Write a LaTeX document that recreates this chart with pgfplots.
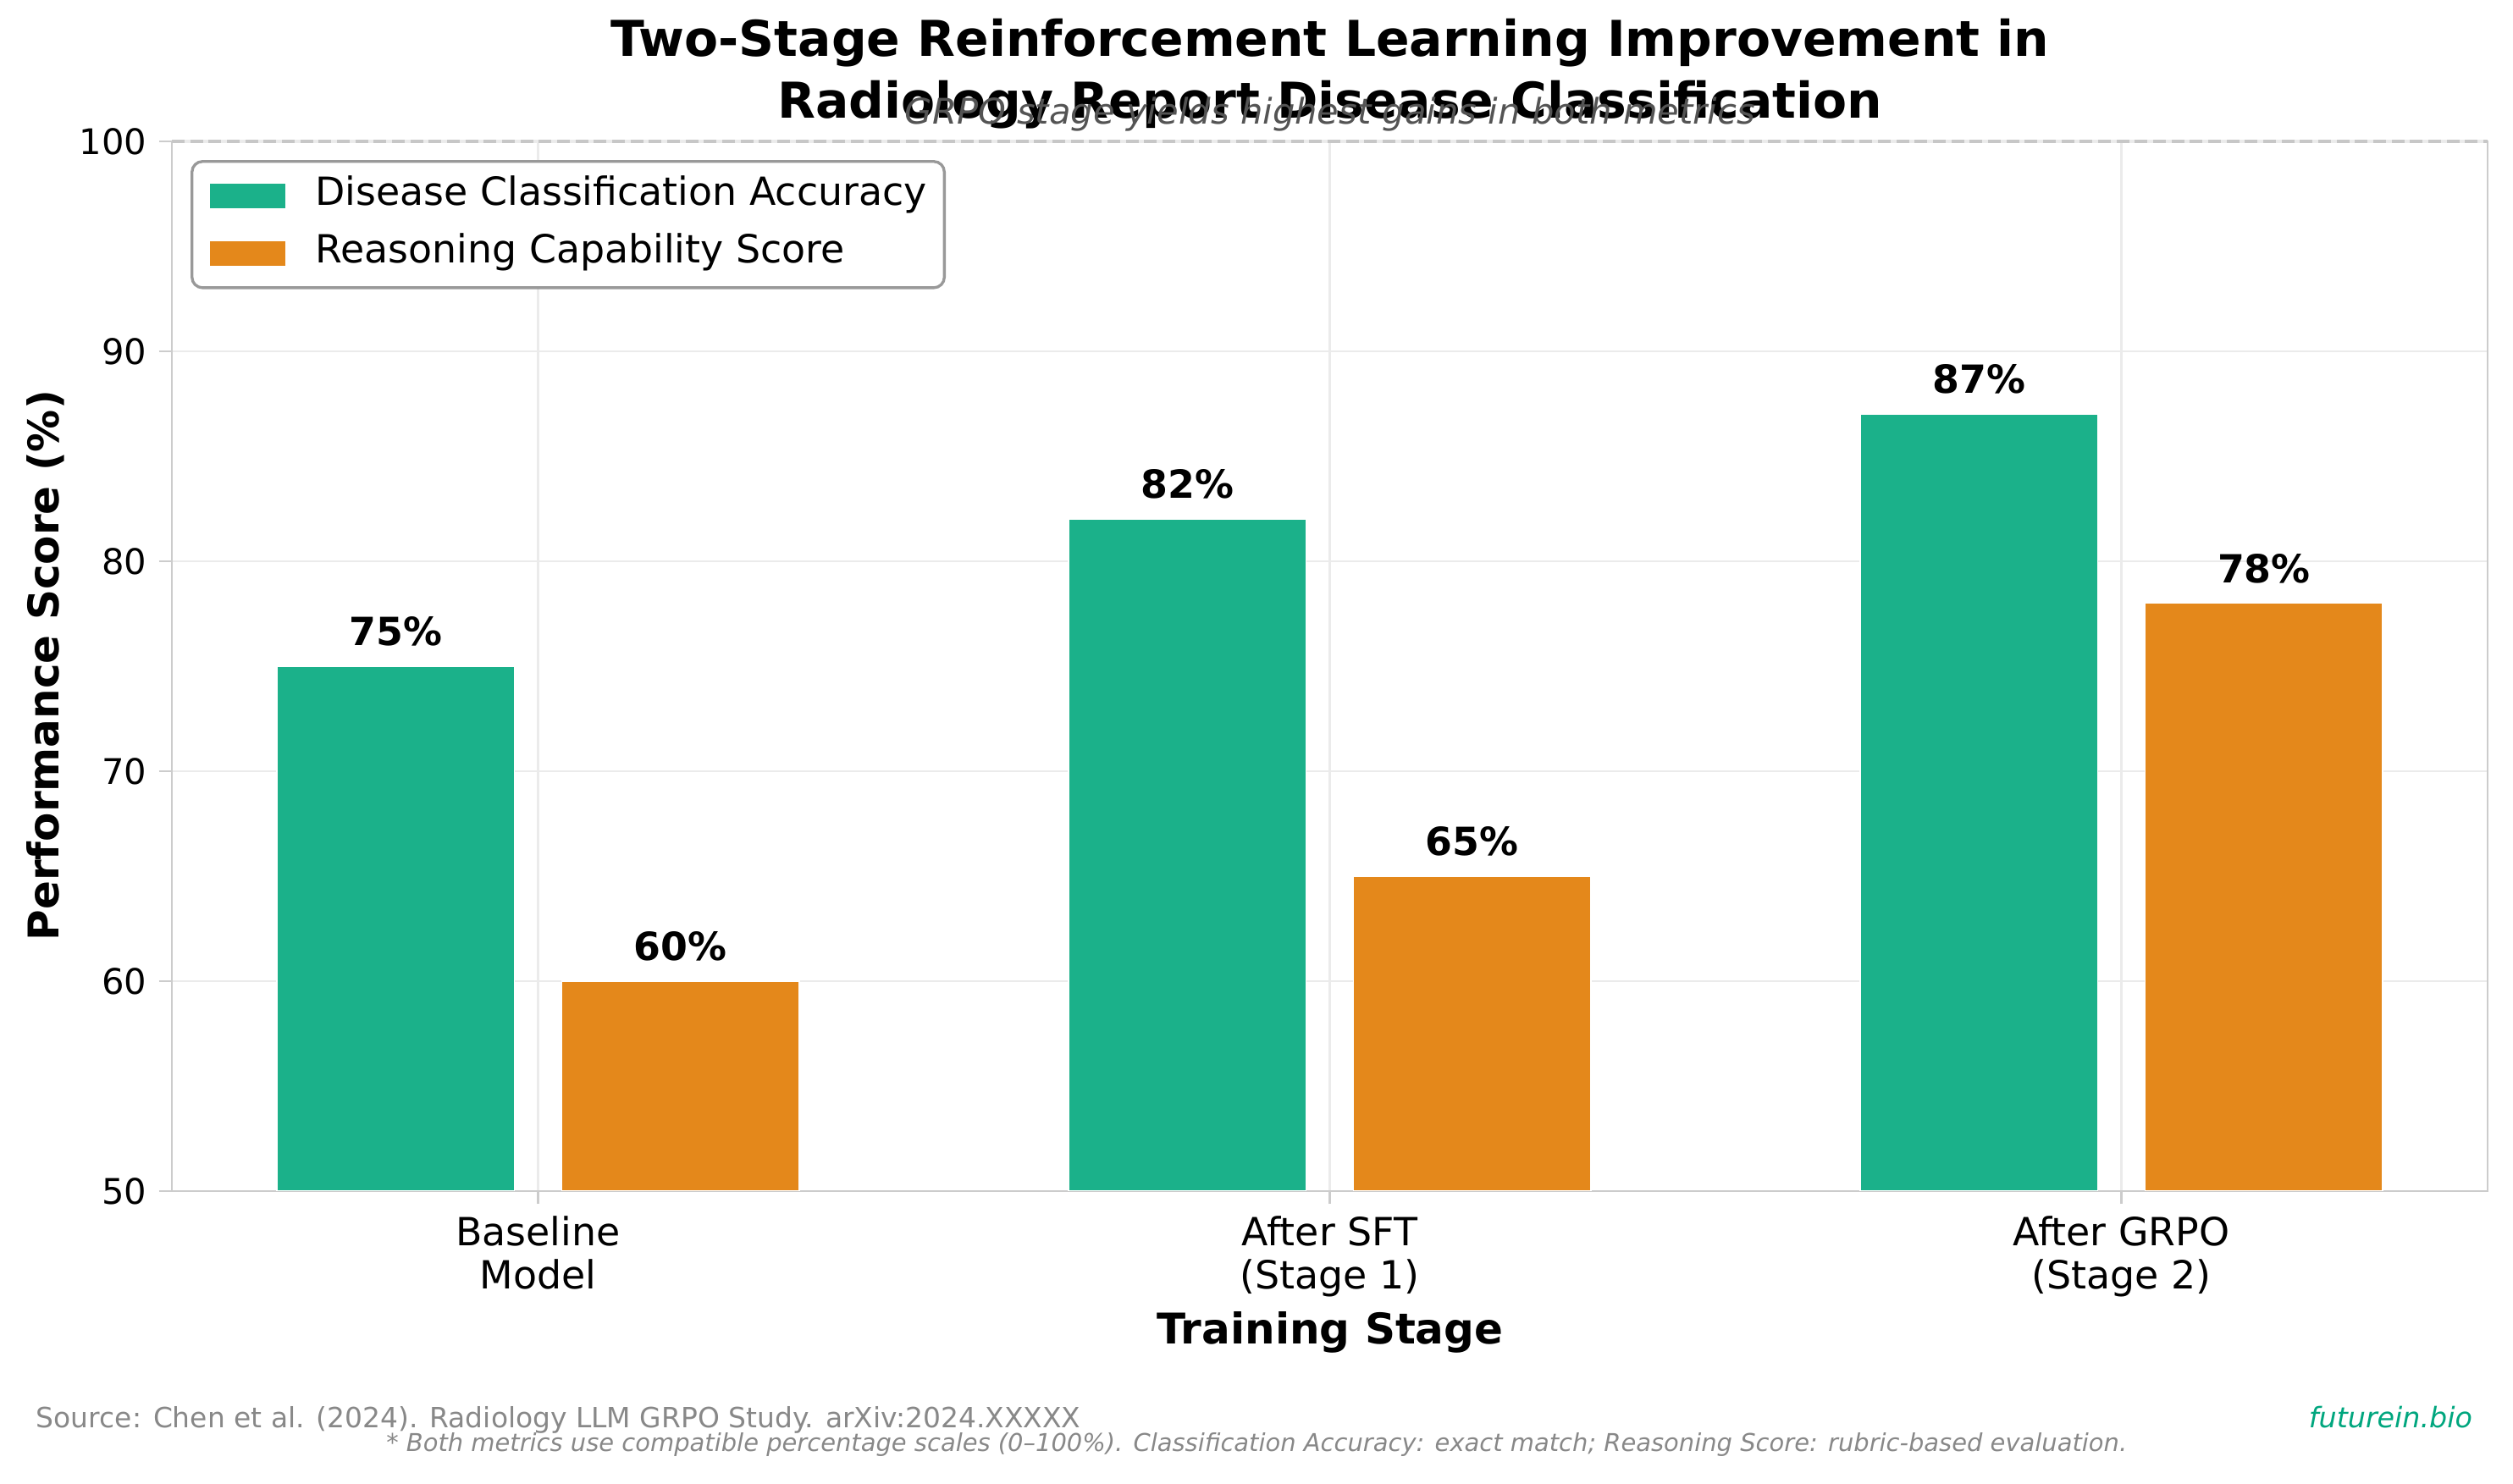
\documentclass[border=0pt]{standalone}
\usepackage{fontspec}
\setmainfont{DejaVu Sans}
\usepackage{pgfplots}
\pgfplotsset{compat=1.18}
\definecolor{cA}{HTML}{1BB18A}
\definecolor{cB}{HTML}{E4881B}
\definecolor{spine}{HTML}{CCCCCC}
\definecolor{gridc}{HTML}{EBEBEB}
\definecolor{foot}{HTML}{888888}
\definecolor{brand}{HTML}{00A67E}
\pgfplotsset{
  barlegend/.style={legend image code/.code={\path[##1,draw=none,sharp corners] (0pt,-3.5pt) rectangle (21.4pt,3.5pt); \path[draw=none,fill=none] (0pt,0pt) -- (30pt,0pt);}},
}
\begin{document}
\begin{tikzpicture}[x=1pt,y=1pt]
\path[use as bounding box] (0,0) rectangle (712.32,420.48);
\begin{axis}[
  name=ax,
  at={(48.72pt,82.8pt)}, anchor=south west,
  width=656.4pt, height=297.6pt, scale only axis,
  xmin=-0.4625, xmax=2.4625, ymin=50, ymax=100,
  xtick={0,1,2},
  xticklabels={{Baseline\\Model},{After SFT\\(Stage 1)},{After GRPO\\(Stage 2)}},
  ytick={50,60,70,80,90,100},
  xmajorgrids, ymajorgrids,
  major grid style={draw=gridc, line width=0.6pt},
  axis line style={draw=spine, line width=0.6pt},
  tick style={draw=spine, line width=0.6pt},
  tick align=outside, major tick length=3.6pt, tick pos=left,
  /pgf/number format/assume math mode=true,
  yticklabel style={font=\fontsize{10}{12}\selectfont, text=black},
  xticklabel style={font=\fontsize{11}{12.3}\selectfont, align=center},
  legend style={at={(0,1)}, anchor=north west, xshift=5.3pt, yshift=-5.3pt,
    draw=black!40, line width=0.8pt, rounded corners=3pt, fill=white,
    font=\fontsize{11}{13}\selectfont, inner xsep=5pt, inner ysep=4.5pt,
    row sep=5.8pt, nodes={inner sep=0pt, text height=8pt, text depth=2.5pt}},
  legend cell align=left,
]
\addplot[ybar, bar width=0.3, bar shift=0pt, fill=cA, draw=white, line width=0.4pt, barlegend,
  nodes near coords={\pgfmathprintnumber{\pgfplotspointmeta}\%},
  nodes near coords style={font=\bfseries\fontsize{11}{13}\selectfont, anchor=south, inner sep=0pt, yshift=5.5pt, text=black}]
  coordinates {(-0.18,75) (0.82,82) (1.82,87)};
\addlegendentry{Disease Classification Accuracy}
\addplot[ybar, bar width=0.3, bar shift=0pt, fill=cB, draw=white, line width=0.4pt, barlegend,
  nodes near coords={\pgfmathprintnumber{\pgfplotspointmeta}\%},
  nodes near coords style={font=\bfseries\fontsize{11}{13}\selectfont, anchor=south, inner sep=0pt, yshift=5.5pt, text=black}]
  coordinates {(0.18,60) (1.18,65) (2.18,78)};
\addlegendentry{Reasoning Capability Score}
\end{axis}
\draw[gridc, line width=0.8pt] (ax.north west) -- (ax.north east);
\draw[black!22, line width=0.8pt, dash pattern=on 3.6pt off 1.6pt] (ax.north west) -- (ax.north east);
\node[anchor=base, inner sep=0pt, font=\bfseries\fontsize{14}{16}\selectfont] at (377,404.5) {Two-Stage Reinforcement Learning Improvement in};
\node[anchor=base, inner sep=0pt, font=\bfseries\fontsize{14}{16}\selectfont] at (377,386.9) {Radiology Report Disease Classification};
\node[anchor=base, inner sep=0pt, font=\itshape\fontsize{10}{12}\selectfont, text=black!67] at (377,385.2) {GRPO stage yields highest gains in both metrics};
\node[anchor=base, inner sep=0pt, font=\bfseries\fontsize{12}{14}\selectfont] at (377,39.4) {Training Stage};
\node[anchor=base, inner sep=0pt, rotate=90, font=\bfseries\fontsize{12}{14}\selectfont] at (16.8,231.8) {Performance Score (\%)};
\node[anchor=base west, inner sep=0pt, font=\fontsize{7.9}{10}\selectfont, text=foot] at (10.1,15.84) {Source: Chen et al. (2024). Radiology LLM GRPO Study. arXiv:2024.XXXXX};
\node[anchor=base east, inner sep=0pt, font=\itshape\fontsize{8}{10}\selectfont, text=brand] at (701,15.84) {futurein.bio};
\node[anchor=base, inner sep=0pt, font=\itshape\fontsize{6.95}{9}\selectfont, text=foot] at (356.2,8.9) {* Both metrics use compatible percentage scales (0–100\%). Classification Accuracy: exact match; Reasoning Score: rubric-based evaluation.};
\end{tikzpicture}
\end{document}
